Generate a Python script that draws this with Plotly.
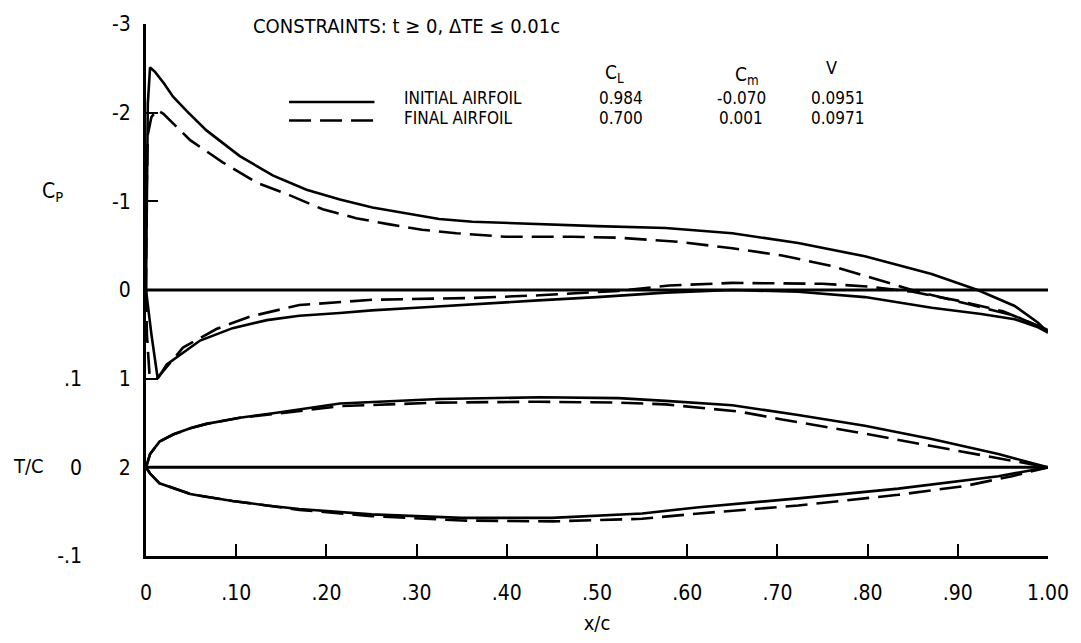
import plotly.graph_objects as go

# ---------------- data ----------------
# Pressure coefficient, initial airfoil (solid)
init_up_x = [0.0, 0.001, 0.002, 0.0045, 0.01, 0.02, 0.03, 0.045, 0.067, 0.104, 0.141, 0.178, 0.215,
             0.251, 0.289, 0.325, 0.362, 0.436, 0.50, 0.576, 0.65, 0.723, 0.797, 0.871, 0.922,
             0.963, 0.989, 1.0]
init_up_cp = [0.0, -1.0, -2.1, -2.51, -2.46, -2.33, -2.18, -2.02, -1.80, -1.51, -1.29, -1.13, -1.02,
              -0.93, -0.86, -0.80, -0.77, -0.74, -0.72, -0.70, -0.64, -0.53, -0.38, -0.18, 0.0,
              0.18, 0.37, 0.48]
init_lo_x = [0.0, 0.006, 0.013, 0.023, 0.06, 0.096, 0.134, 0.17, 0.215, 0.25, 0.30, 0.36, 0.43,
             0.50, 0.576, 0.65, 0.723, 0.797, 0.871, 0.926, 0.963, 0.989, 1.0]
init_lo_cp = [0.0, 0.5, 1.0, 0.84, 0.57, 0.43, 0.34, 0.29, 0.26, 0.23, 0.20, 0.16, 0.12,
              0.08, 0.03, 0.0, 0.02, 0.08, 0.20, 0.27, 0.33, 0.42, 0.48]

# Pressure coefficient, final airfoil (dashed)
fin_up_x = [0.0, 0.0005, 0.002, 0.006, 0.012, 0.019, 0.049, 0.085, 0.123, 0.159, 0.196, 0.233,
            0.27, 0.306, 0.344, 0.399, 0.472, 0.524, 0.594, 0.65, 0.705, 0.76, 0.797, 0.826,
            0.853, 0.908, 0.963, 1.0]
fin_up_cp = [0.0, -1.0, -1.75, -1.95, -2.03, -1.99, -1.69, -1.44, -1.21, -1.07, -0.91, -0.81,
             -0.74, -0.68, -0.64, -0.60, -0.60, -0.59, -0.54, -0.47, -0.39, -0.27, -0.16, -0.07,
             0.01, 0.15, 0.29, 0.46]
fin_lo_x = [0.0, 0.001, 0.004, 0.012, 0.041, 0.078, 0.115, 0.17, 0.251, 0.362, 0.436, 0.524,
            0.58, 0.65, 0.75, 0.80, 0.85, 0.90, 0.95, 1.0]
fin_lo_cp = [0.0, 0.5, 0.97, 1.0, 0.65, 0.44, 0.30, 0.17, 0.11, 0.09, 0.06, 0.01,
             -0.05, -0.08, -0.07, -0.04, 0.02, 0.12, 0.24, 0.45]

# Airfoil geometry t/c
geo_init_up_x = [0.0, 0.0045, 0.015, 0.03, 0.049, 0.067, 0.104, 0.141, 0.215, 0.325, 0.436, 0.524,
                 0.576, 0.65, 0.723, 0.797, 0.871, 0.945, 1.0]
geo_init_up_t = [0.0, 0.015, 0.029, 0.037, 0.044, 0.049, 0.056, 0.061, 0.072, 0.077, 0.079, 0.078,
                 0.075, 0.070, 0.059, 0.047, 0.032, 0.015, 0.0]
geo_fin_up_x = [0.0, 0.0045, 0.015, 0.03, 0.049, 0.067, 0.104, 0.141, 0.215, 0.325, 0.436, 0.524,
                0.576, 0.657, 0.705, 0.797, 0.871, 0.945, 1.0]
geo_fin_up_t = [0.0, 0.015, 0.029, 0.037, 0.044, 0.049, 0.056, 0.060, 0.069, 0.073, 0.074, 0.073,
                0.071, 0.063, 0.054, 0.038, 0.024, 0.010, 0.0]
geo_init_lo_x = [0.0, 0.0045, 0.015, 0.023, 0.049, 0.06, 0.096, 0.134, 0.17, 0.25, 0.35, 0.45,
                 0.55, 0.613, 0.723, 0.834, 0.945, 1.0]
geo_init_lo_t = [0.0, -0.007, -0.018, -0.021, -0.030, -0.032, -0.038, -0.043, -0.047, -0.053,
                 -0.057, -0.057, -0.052, -0.045, -0.035, -0.024, -0.010, 0.0]
geo_fin_lo_x = [0.0, 0.0045, 0.015, 0.023, 0.049, 0.06, 0.096, 0.134, 0.17, 0.25, 0.35, 0.45,
                0.55, 0.613, 0.723, 0.834, 0.908, 0.96, 1.0]
geo_fin_lo_t = [0.0, -0.007, -0.018, -0.021, -0.030, -0.032, -0.038, -0.043, -0.048, -0.055,
                -0.060, -0.061, -0.058, -0.052, -0.043, -0.031, -0.021, -0.010, 0.0]

ref_x = [0.0, 1.0]
ref_zero = [0.0, 0.0]

x_ticks = [0, 0.1, 0.2, 0.3, 0.4, 0.5, 0.6, 0.7, 0.8, 0.9, 1.0]
x_tick_text = ["0", ".10", ".20", ".30", ".40", ".50", ".60", ".70", ".80", ".90", "1.00"]
cp_ticks = [-3, -2, -1, 0, 1, 2]
cp_tick_text = ["-3", "-2", "-1", "0", "1", "2"]
tc_ticks = [-0.1, 0.0, 0.1]
tc_tick_text = ["-.1", "0", ".1"]

table_rows = ["INITIAL AIRFOIL", "FINAL AIRFOIL"]
table_cl = ["0.984", "0.700"]
table_cm = ["-0.070", "0.001"]
table_v = ["0.0951", "0.0971"]

# ---------------- figure ----------------
FONT = "Liberation Sans Narrow, DejaVu Sans Condensed, Roboto Condensed, Arial Narrow, Liberation Sans, sans-serif"
W, H = 1081, 643
L, T, PW, PH = 146, 17, 908, 546
R, B = W - L - PW, H - T - PH

def px(xp):
    return (xp - L) / PW

def py(yp):
    return (T + PH - yp) / PH

solid = dict(color="black", width=2.6)
dashed = dict(color="black", width=2.6, dash="22px,9px")

fig = go.Figure()
fig.add_trace(go.Scatter(x=ref_x, y=ref_zero, mode="lines", line=dict(color="black", width=3), yaxis="y"))
fig.add_trace(go.Scatter(x=init_up_x, y=init_up_cp, mode="lines", line=solid, yaxis="y"))
fig.add_trace(go.Scatter(x=init_lo_x, y=init_lo_cp, mode="lines", line=solid, yaxis="y"))
fig.add_trace(go.Scatter(x=fin_up_x, y=fin_up_cp, mode="lines", line=dashed, yaxis="y"))
fig.add_trace(go.Scatter(x=fin_lo_x, y=fin_lo_cp, mode="lines", line=dashed, yaxis="y"))

fig.add_trace(go.Scatter(x=ref_x, y=ref_zero, mode="lines", line=dict(color="black", width=3), yaxis="y2"))
fig.add_trace(go.Scatter(x=geo_init_up_x, y=geo_init_up_t, mode="lines", line=solid, yaxis="y2"))
fig.add_trace(go.Scatter(x=geo_init_lo_x, y=geo_init_lo_t, mode="lines", line=solid, yaxis="y2"))
fig.add_trace(go.Scatter(x=geo_fin_up_x, y=geo_fin_up_t, mode="lines", line=dashed, yaxis="y2"))
fig.add_trace(go.Scatter(x=geo_fin_lo_x, y=geo_fin_lo_t, mode="lines", line=dashed, yaxis="y2"))

tickfont = dict(family=FONT, size=21, color="black")

fig.update_layout(
    width=W, height=H,
    margin=dict(l=L, r=R, t=T, b=B),
    paper_bgcolor="white", plot_bgcolor="white",
    showlegend=False,
    font=dict(family=FONT, size=17, color="black"),
    xaxis=dict(range=[0, 1.0], tickvals=x_ticks, ticktext=x_tick_text, ticks="inside",
               ticklen=12, tickwidth=2, tickcolor="black", showline=True, linecolor="black",
               linewidth=3, showgrid=False, zeroline=False, tickfont=tickfont,
               ticklabelstandoff=16, title=dict(text="x/c", font=dict(family=FONT, size=20), standoff=12)),
    yaxis=dict(range=[3, -3], tickvals=cp_ticks, ticktext=cp_tick_text, ticks="inside",
               ticklen=12, tickwidth=2, tickcolor="black", showline=True, linecolor="black",
               linewidth=3, showgrid=False, zeroline=False, tickfont=tickfont,
               ticklabelstandoff=8),
    yaxis2=dict(range=[-0.1, 0.5], overlaying="y", side="left", anchor="free", position=0,
                tickvals=tc_ticks, ticktext=tc_tick_text, ticks="", showline=False,
                showgrid=False, zeroline=False, tickfont=tickfont, ticklabelstandoff=64),
)

ann = []
def text(s, xp, yp, xanchor="left", size=17):
    ann.append(dict(text=s, x=px(xp), y=py(yp), xref="paper", yref="paper",
                    xanchor=xanchor, yanchor="middle", showarrow=False,
                    font=dict(family=FONT, size=size, color="black")))

text("CONSTRAINTS: t \u2265 0, \u0394TE \u2264 0.01c", 252, 19, size=20)
text("C<sub>L</sub>", 618, 68, "center", 19)
text("C<sub>m</sub>", 751, 70, "center", 19)
text("V", 836, 62, "center", 18)
row_y = [93, 113]
for i in range(2):
    text(table_rows[i], 404, row_y[i], size=17)
    text(table_cl[i], 624, row_y[i], "center", 17)
    text(table_cm[i], 745, row_y[i], "center", 17)
    text(table_v[i], 843, row_y[i], "center", 17)
text("C<sub>P</sub>", 52, 189, "center", 21)
text("T/C", 28, 471, "center", 20)
fig.update_layout(annotations=ann)

fig.add_shape(type="line", xref="paper", yref="paper", x0=px(290), x1=px(376), y0=py(97), y1=py(97),
              line=dict(color="black", width=2.6))
fig.add_shape(type="line", xref="paper", yref="paper", x0=px(290), x1=px(376), y0=py(116), y1=py(116),
              line=dict(color="black", width=2.6, dash="22px,9px"))

fig.write_html("out.html")
